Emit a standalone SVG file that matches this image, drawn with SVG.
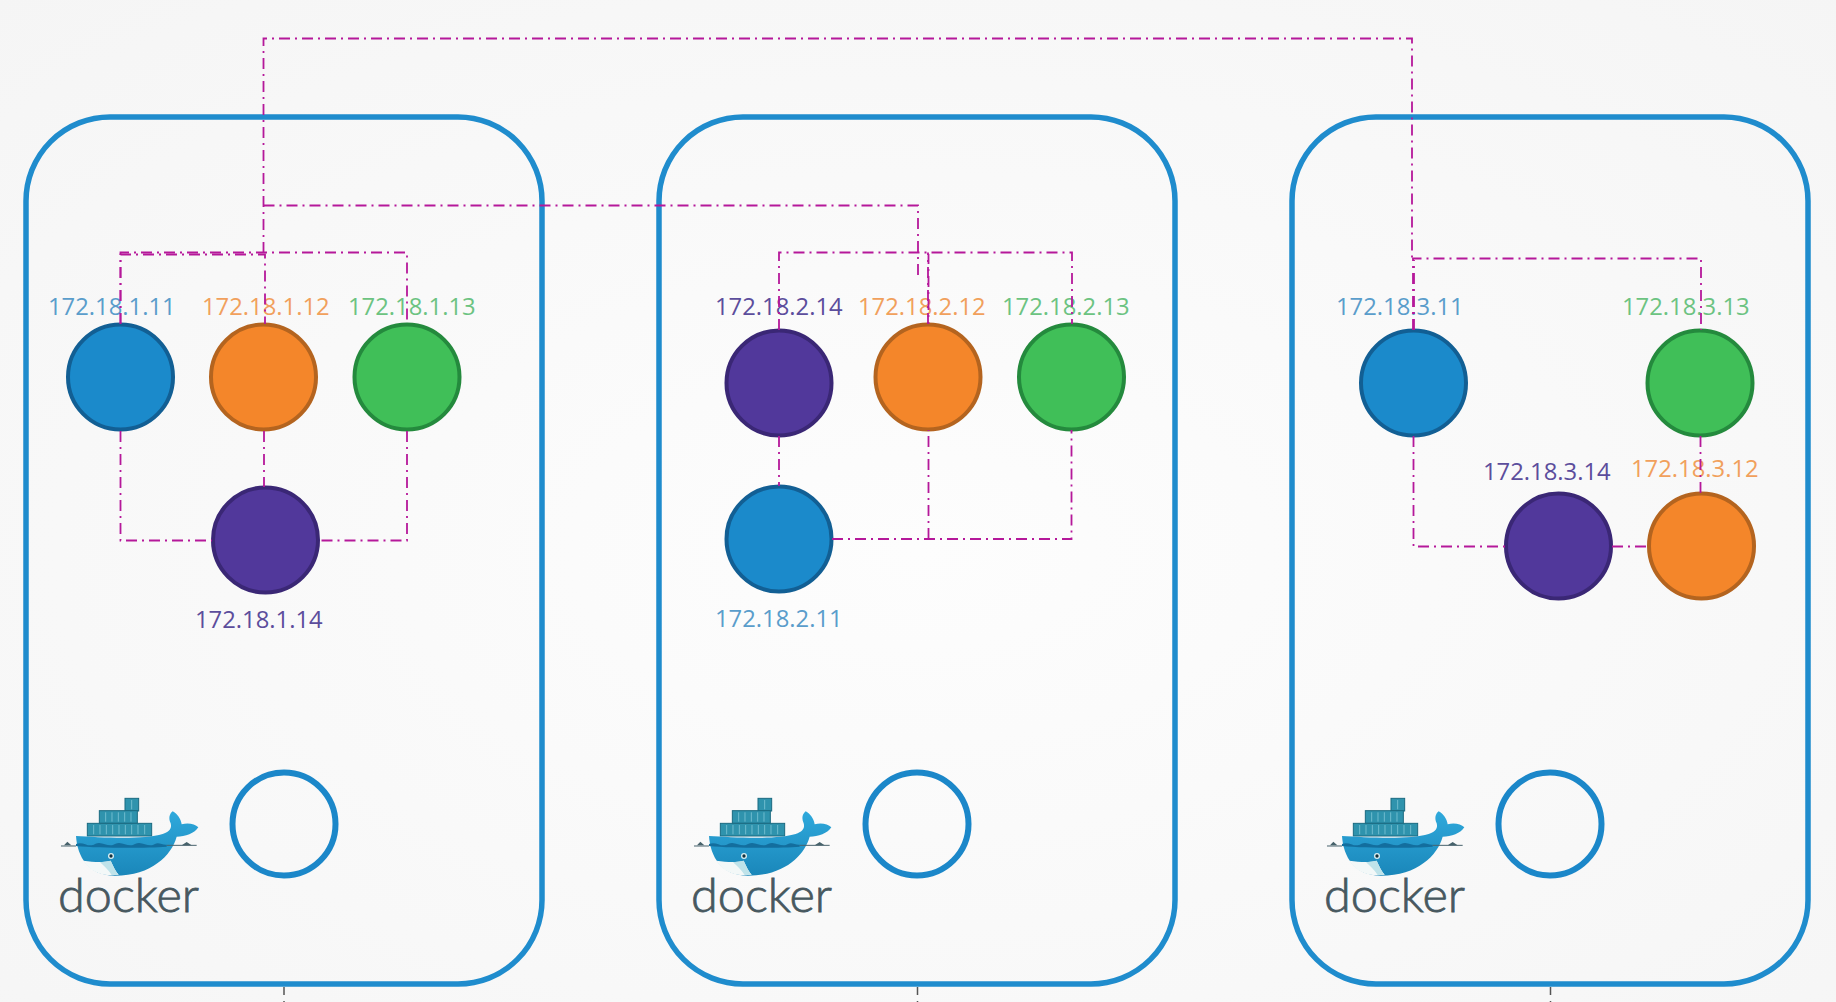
<svg xmlns="http://www.w3.org/2000/svg" xmlns:xlink="http://www.w3.org/1999/xlink" width="1836" height="1002" viewBox="0 0 1836 1002">
<style>
.host{fill:none;stroke:#1f8ccd;stroke-width:5.500}
.ring{fill:none;stroke:#1b87c9;stroke-width:6}
.c{stroke-width:4}
.blue{fill:#1b8acb;stroke:#125f94}
.orange{fill:#f4862a;stroke:#b4641f}
.green{fill:#40bf58;stroke:#248a3d}
.purple{fill:#51389b;stroke:#3a2775}
text.l{font-family:"Open Sans","Noto Sans",sans-serif;font-size:23.800px}
.tb{fill:#5a9dcb}.to{fill:#f1a05c}.tg{fill:#6cc381}.tp{fill:#5c4d9c}
text.d{font-family:Lato,"Open Sans",sans-serif;font-size:47px;font-weight:300;fill:#47585f;stroke:#47585f;stroke-width:.8}
#links path{fill:none;stroke:#b5189a;stroke-width:1.800;stroke-dasharray:11 5 2 5}
#links path.tick{stroke:#555;stroke-width:1.500;stroke-dasharray:8 6 2 6}
.cell{fill:#2f93ad;stroke:#1b6a80;stroke-width:3}
.sep{stroke:#8fd0df;stroke-width:2;fill:none}
</style>
<defs>
<radialGradient id="bg" cx="50%" cy="55%" r="75%"><stop offset="0" stop-color="#fdfdfd"/><stop offset="1" stop-color="#f5f5f5"/></radialGradient>
<linearGradient id="hull" x1="0" y1="0" x2="0" y2="1"><stop offset="0" stop-color="#2fa9dc"/><stop offset="1" stop-color="#1a87ba"/></linearGradient>
<g id="whale" transform="translate(0,740) scale(0.33333)">
<rect class="cell" x="375" y="175" width="41" height="38"/>
<rect class="cell" x="298" y="212" width="114" height="38"/>
<rect class="cell" x="262" y="250" width="193" height="38"/>
<path class="sep" d="M395 180V208M317 217V245M336 217V245M355 217V245M374 217V245M393 217V245M281 255V283M300 255V283M319 255V283M338 255V283M357 255V283M376 255V283M395 255V283M414 255V283M434 255V283"/>
<path fill="url(#hull)" d="M228 288C300 292 430 300 488 282C510 275 516 264 512 250C505 235 508 222 518 214C532 222 542 235 545 253C565 248 585 252 595 262C585 280 555 290 530 290C515 345 455 407 345 407C265 407 232 350 228 288Z"/>
<path fill="#f3f8f8" d="M250 362C290 368 320 366 332 362C340 380 348 395 356 404C310 410 272 398 250 362Z"/>
<path fill="#bfe3ea" d="M300 367L332 362C340 380 348 395 356 404L335 405C325 390 312 378 300 367Z"/>
<path d="M228 312C250 302 265 325 285 312C305 300 325 325 345 312C365 300 385 325 405 312C425 300 445 325 465 312C475 306 490 316 500 314L500 320C440 325 300 325 228 318Z" fill="#136e9e"/>
<path d="M183 318H228M500 316H590" stroke="#47626b" stroke-width="3" fill="none"/>
<path d="M192 316L202 305L214 316ZM545 316L560 306L575 316Z" fill="#47626b"/>
<circle cx="333" cy="348" r="9" fill="#d9eef2"/><circle cx="333" cy="348" r="5" fill="#14303c"/>
</g>
</defs>
<rect id="background" width="1836" height="1002" fill="url(#bg)"/>

<g id="host-1">
<rect class="host" x="26" y="117" width="516" height="867" rx="84"/>
<circle class="ring" cx="284" cy="824" r="51.500"/>
<use xlink:href="#whale" href="#whale"/>
<text class="d" x="58" y="912" textLength="141" lengthAdjust="spacingAndGlyphs">docker</text>
</g>
<g id="host-2">
<rect class="host" x="659" y="117" width="516" height="867" rx="84"/>
<circle class="ring" cx="917" cy="824" r="51.500"/>
<use xlink:href="#whale" href="#whale" x="633"/>
<text class="d" x="691" y="912" textLength="141" lengthAdjust="spacingAndGlyphs">docker</text>
</g>
<g id="host-3">
<rect class="host" x="1292" y="117" width="516" height="867" rx="84"/>
<circle class="ring" cx="1550" cy="824" r="51.500"/>
<use xlink:href="#whale" href="#whale" x="1266"/>
<text class="d" x="1324" y="912" textLength="141" lengthAdjust="spacingAndGlyphs">docker</text>
</g>

<g id="n-1-11"><circle class="c blue" cx="120.500" cy="377" r="52.500"/><text class="l tb" x="48" y="315">172.18.1.11</text></g>
<g id="n-1-12"><circle class="c orange" cx="263.500" cy="377" r="52.500"/><text class="l to" x="202" y="315">172.18.1.12</text></g>
<g id="n-1-13"><circle class="c green" cx="407" cy="377" r="52.500"/><text class="l tg" x="348" y="315">172.18.1.13</text></g>
<g id="n-1-14"><circle class="c purple" cx="265.500" cy="540" r="52.500"/><text class="l tp" x="195" y="628">172.18.1.14</text></g>

<g id="n-2-14"><circle class="c purple" cx="779" cy="383" r="52.500"/><text class="l tp" x="715" y="315">172.18.2.14</text></g>
<g id="n-2-12"><circle class="c orange" cx="928" cy="377" r="52.500"/><text class="l to" x="858" y="315">172.18.2.12</text></g>
<g id="n-2-13"><circle class="c green" cx="1071.500" cy="377" r="52.500"/><text class="l tg" x="1002" y="315">172.18.2.13</text></g>
<g id="n-2-11"><circle class="c blue" cx="779" cy="539" r="52.500"/><text class="l tb" x="715" y="627">172.18.2.11</text></g>

<g id="n-3-11"><circle class="c blue" cx="1413.500" cy="383" r="52.500"/><text class="l tb" x="1336" y="315">172.18.3.11</text></g>
<g id="n-3-13"><circle class="c green" cx="1700" cy="383" r="52.500"/><text class="l tg" x="1622" y="315">172.18.3.13</text></g>
<g id="n-3-14"><circle class="c purple" cx="1558.500" cy="546" r="52.500"/><text class="l tp" x="1483" y="480">172.18.3.14</text></g>
<g id="n-3-12"><circle class="c orange" cx="1701.500" cy="546" r="52.500"/><text class="l to" x="1631" y="477">172.18.3.12</text></g>

<g id="links">
<path d="M263.500 253V38.500H1412V258"/>
<path d="M263.500 205.500H918V278"/>
<path d="M120.500 324V252.500H407V324"/>
<path d="M120.500 324V254.500H265V324"/>
<path d="M120.500 431V540.500H212"/>
<path d="M407 431V540.500H319"/>
<path d="M264 431V487"/>
<path d="M779 330V252.500H1072V324"/>
<path d="M928 324V252.500"/>
<path d="M928.500 324V254" style="stroke-dashoffset:9"/>
<path d="M779 436V486"/>
<path d="M832 539H1071.500V430"/>
<path d="M928.500 539V430"/>
<path d="M1413 330V258.500H1701V330"/>
<path d="M1414 330V260"/>
<path d="M1413.500 436V546.500H1505"/>
<path d="M1612 546.500H1648"/>
<path d="M1700.500 436V493"/>
<path class="tick" d="M284 987V1002"/>
<path class="tick" d="M917.500 987V1002"/>
<path class="tick" d="M1550.500 987V1002"/>
</g>
</svg>
